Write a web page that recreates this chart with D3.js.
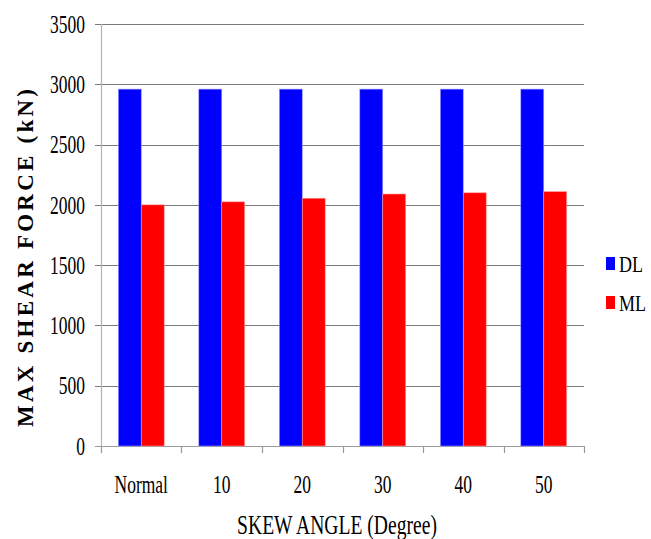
<!DOCTYPE html>
<html>
<head>
<meta charset="utf-8">
<script src="https://cdn.jsdelivr.net/npm/d3@7"></script>
<style>
  html, body { margin: 0; padding: 0; background: #fff; }
  svg { display: block; }
  text { font-family: "Liberation Serif", "Times New Roman", serif; fill: #000; }
</style>
</head>
<body>
<svg id="chart" width="651" height="539"></svg>
<script>
// Skew angle categories and maximum shear force per load case (kN)
const categories = ["Normal", "10", "20", "30", "40", "50"];
const seriesNames = ["DL", "ML"];
const dlValues = [2960, 2960, 2960, 2960, 2960, 2960];
const mlValues = [2000, 2025, 2055, 2090, 2100, 2110];
const yTicks = [0, 500, 1000, 1500, 2000, 2500, 3000, 3500];
const colors = ["#0000ff", "#ff0000"];

const rows = categories.map((c, i) => ({ cat: c, values: [dlValues[i], mlValues[i]] }));

const svg = d3.select("#chart");
const plot = { left: 101, right: 584, top: 24, bottom: 446 };
const SX = 0.7; // horizontal squeeze applied to the serif labels

const y = d3.scaleLinear().domain([0, 3500]).range([plot.bottom, plot.top]);
const x0 = d3.scaleBand().domain(categories).range([plot.left, plot.right])
  .paddingInner(0.43).paddingOuter(0.215);
const x1 = d3.scaleBand().domain(seriesNames).range([0, x0.bandwidth()]);

// Horizontal gridlines with short ticks left of the axis
const grid = svg.append("g");
grid.selectAll("line").data(yTicks).join("line")
  .attr("x1", plot.left - 6).attr("x2", plot.right)
  .attr("y1", d => Math.round(y(d)) + 0.5).attr("y2", d => Math.round(y(d)) + 0.5)
  .attr("stroke", d => d === 0 ? "#9a9a9a" : "#7a7a7a").attr("stroke-width", 1.2);

// Y axis line
svg.append("line")
  .attr("x1", plot.left + 0.5).attr("x2", plot.left + 0.5)
  .attr("y1", plot.top).attr("y2", plot.bottom)
  .attr("stroke", "#b4b4b4").attr("stroke-width", 1.2);

// Category boundary ticks below the x axis
const bounds = categories.map(c => x0(c) - x0.step() * x0.paddingInner() / 2);
bounds.push(plot.right);
bounds[0] = plot.left;
svg.append("g").selectAll("line").data(bounds).join("line")
  .attr("x1", d => Math.round(d) + 0.5).attr("x2", d => Math.round(d) + 0.5)
  .attr("y1", plot.bottom).attr("y2", plot.bottom + 7)
  .attr("stroke", "#9a9a9a").attr("stroke-width", 1.2);

// Bars
const groups = svg.append("g").selectAll("g").data(rows).join("g")
  .attr("transform", d => `translate(${x0(d.cat)},0)`);
groups.selectAll("rect").data(d => d.values.map((v, i) => ({ key: seriesNames[i], v, i })))
  .join("rect")
  .attr("x", d => x1(d.key))
  .attr("width", x1.bandwidth())
  .attr("y", d => y(d.v))
  .attr("height", d => y(0) - y(d.v))
  .attr("fill", d => colors[d.i])
  .attr("stroke", d => d.i === 0 ? "#9a9aff" : "#ff9a9a")
  .attr("stroke-width", 0.6);

// Y tick labels
svg.append("g").selectAll("g").data(yTicks).join("g")
  .attr("transform", d => `translate(85,${y(d)})`)
  .append("text")
  .attr("transform", `scale(${SX},1)`)
  .attr("text-anchor", "end").attr("dy", "0.35em")
  .style("font-size", "25px")
  .text(d => d);

// X category labels
svg.append("g").selectAll("g").data(categories).join("g")
  .attr("transform", d => `translate(${x0(d) + x0.bandwidth() / 2},493)`)
  .append("text")
  .attr("transform", `scale(${SX},1)`)
  .attr("text-anchor", "middle")
  .style("font-size", "25px")
  .text(d => d);

// X axis title
svg.append("g").attr("transform", "translate(337,534)")
  .append("text")
  .attr("transform", `scale(${SX},1)`)
  .attr("text-anchor", "middle")
  .style("font-size", "28px")
  .text("SKEW ANGLE (Degree)");

// Y axis title
svg.append("text")
  .attr("transform", "translate(33,258) rotate(-90)")
  .attr("text-anchor", "middle")
  .attr("textLength", 338).attr("lengthAdjust", "spacing")
  .style("font-size", "23px").style("font-weight", "bold")
  .text("MAX SHEAR FORCE (kN)");

// Legend
const legend = svg.append("g");
const legendY = [257, 296];
seriesNames.forEach((name, i) => {
  legend.append("rect")
    .attr("x", 606).attr("y", legendY[i]).attr("width", 9).attr("height", 13)
    .attr("fill", colors[i]);
  legend.append("g").attr("transform", `translate(619,${legendY[i] + 15})`)
    .append("text")
    .attr("transform", "scale(0.75,1)")
    .style("font-size", "24px")
    .text(name);
});
</script>
</body>
</html>
